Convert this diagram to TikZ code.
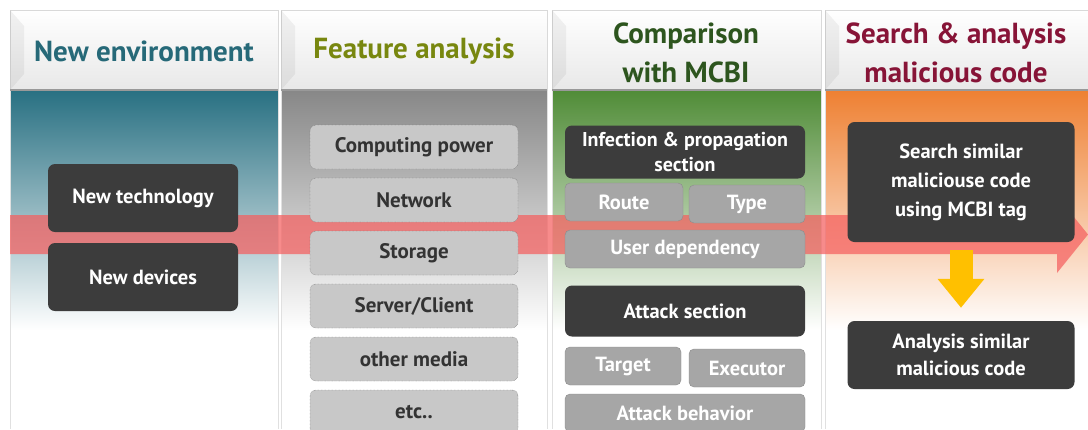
\documentclass[tikz,border=0pt]{standalone}
\usepackage{fontspec}
\setmainfont{PT Sans}
\usetikzlibrary{arrows.meta}

\definecolor{envteal}{RGB}{40,112,130}
\definecolor{featgray}{RGB}{135,135,135}
\definecolor{mcbigreen}{RGB}{80,140,55}
\definecolor{searchorange}{RGB}{238,128,50}
\definecolor{envtext}{RGB}{38,105,120}
\definecolor{feattext}{RGB}{120,135,15}
\definecolor{mcbitext}{RGB}{45,85,30}
\definecolor{searchtext}{RGB}{135,20,55}
\definecolor{boxdark}{RGB}{60,60,60}
\definecolor{boxlight}{RGB}{200,200,200}
\definecolor{boxmid}{RGB}{166,166,166}
\definecolor{bandred}{RGB}{245,95,95}
\definecolor{arrowyellow}{RGB}{255,192,0}

\begin{document}
\begin{tikzpicture}[x=1pt,y=-1pt,
    head/.style={font=\fontsize{29}{39}\selectfont\bfseries, align=center},
    darkbox/.style={fill=boxdark, rounded corners=7pt, text=white, align=center,
      font=\fontsize{20.5}{27}\selectfont\bfseries, inner sep=0pt},
    featbox/.style={fill=boxlight, draw=black!65, densely dotted, rounded corners=6pt,
      text=black!80, font=\fontsize{21}{27}\selectfont\bfseries,
      minimum width=208pt, minimum height=44pt, inner sep=0pt},
    partbox/.style={fill=boxmid, draw=black!45, rounded corners=5pt, text=white,
      font=\fontsize{20.5}{27}\selectfont\bfseries, minimum height=38pt, inner sep=0pt},
    yarrow/.style={draw=arrowyellow, line width=23pt, -{Triangle[length=29pt,width=45pt]}}]
  \useasboundingbox (0,0) rectangle (1088,429);
  \fill[white] (0,0) rectangle (1088,429);

  % columns
  \foreach \xa/\xb/\col in {10/278/envteal, 281/547/featgray, 552/821/mcbigreen, 825/1088/searchorange}{
    \shade[top color=\col, bottom color=white, middle color=\col!50!white] (\xa,90) rectangle (\xb,330);
    \draw[black!12] (\xa,90) -- (\xa,429) (\xb,90) -- (\xb,429);
    \shade[top color=white, bottom color=black!9, draw=black!15] (\xa,10) rectangle (\xb,90);
    \fill[black, opacity=.05] (\xa,10) -- (\xa+14,26) -- (\xa+14,74) -- (\xa,90) -- cycle;
    \draw[black!40, line width=1.5pt] (\xa,90) -- (\xb,90);
  }
  \node[head, text=envtext] (hEnv) at (144,51) {New environment};
  \node[head, text=feattext] (hFeat) at (414,51) {Feature analysis};
  \node[head, text=mcbitext] (hMcbi) at (686,53) {Comparison\\with MCBI};
  \node[head, text=searchtext] (hSearch) at (956,53) {Search \& analysis\\malicious code};

  % flow band
  \fill[bandred, opacity=.72] (10,215) -- (1057,215) -- (1057,196) -- (1088,234.5)
    -- (1057,273) -- (1057,254) -- (10,254) -- cycle;

  \node[darkbox, minimum width=190pt, minimum height=68pt] (tech) at (143,198) {New technology};
  \node[darkbox, minimum width=190pt, minimum height=68pt] (devices) at (143,277) {New devices};

  \node[featbox] (power) at (414,147) {Computing power};
  \node[featbox] (network) at (414,200) {Network};
  \node[featbox] (storage) at (414,253) {Storage};
  \node[featbox] (server) at (414,306) {Server/Client};
  \node[featbox] (media) at (414,359) {other media};
  \node[featbox] (etc) at (414,412) {etc..};

  \node[darkbox, minimum width=240pt, minimum height=53pt, font=\fontsize{20}{25}\selectfont\bfseries]
    (infection) at (685,152) {Infection \& propagation\\section};
  \node[partbox, minimum width=118pt] (route) at (624,202) {Route};
  \node[partbox, minimum width=116pt] (type) at (747,204) {Type};
  \node[partbox, minimum width=240pt] (userdep) at (685,249) {User dependency};
  \node[darkbox, minimum width=240pt, minimum height=51pt] (attack) at (685,311) {Attack section};
  \node[partbox, minimum width=116pt] (target) at (623,366) {Target};
  \node[partbox, minimum width=116pt] (executor) at (747,368) {Executor};
  \node[partbox, minimum width=240pt] (behavior) at (685,413) {Attack behavior};

  \node[darkbox, minimum width=227pt, minimum height=120pt, font=\fontsize{20.5}{29}\selectfont\bfseries]
    (search) at (961,182) {Search similar\\maliciouse code\\using MCBI tag};
  \node[darkbox, minimum width=227pt, minimum height=68pt] (analysis) at (961,355)
    {Analysis similar\\malicious code};
  \draw[yarrow] ([yshift=-8pt]search.south) -- ([yshift=13pt]analysis.north);
\end{tikzpicture}
\end{document}
